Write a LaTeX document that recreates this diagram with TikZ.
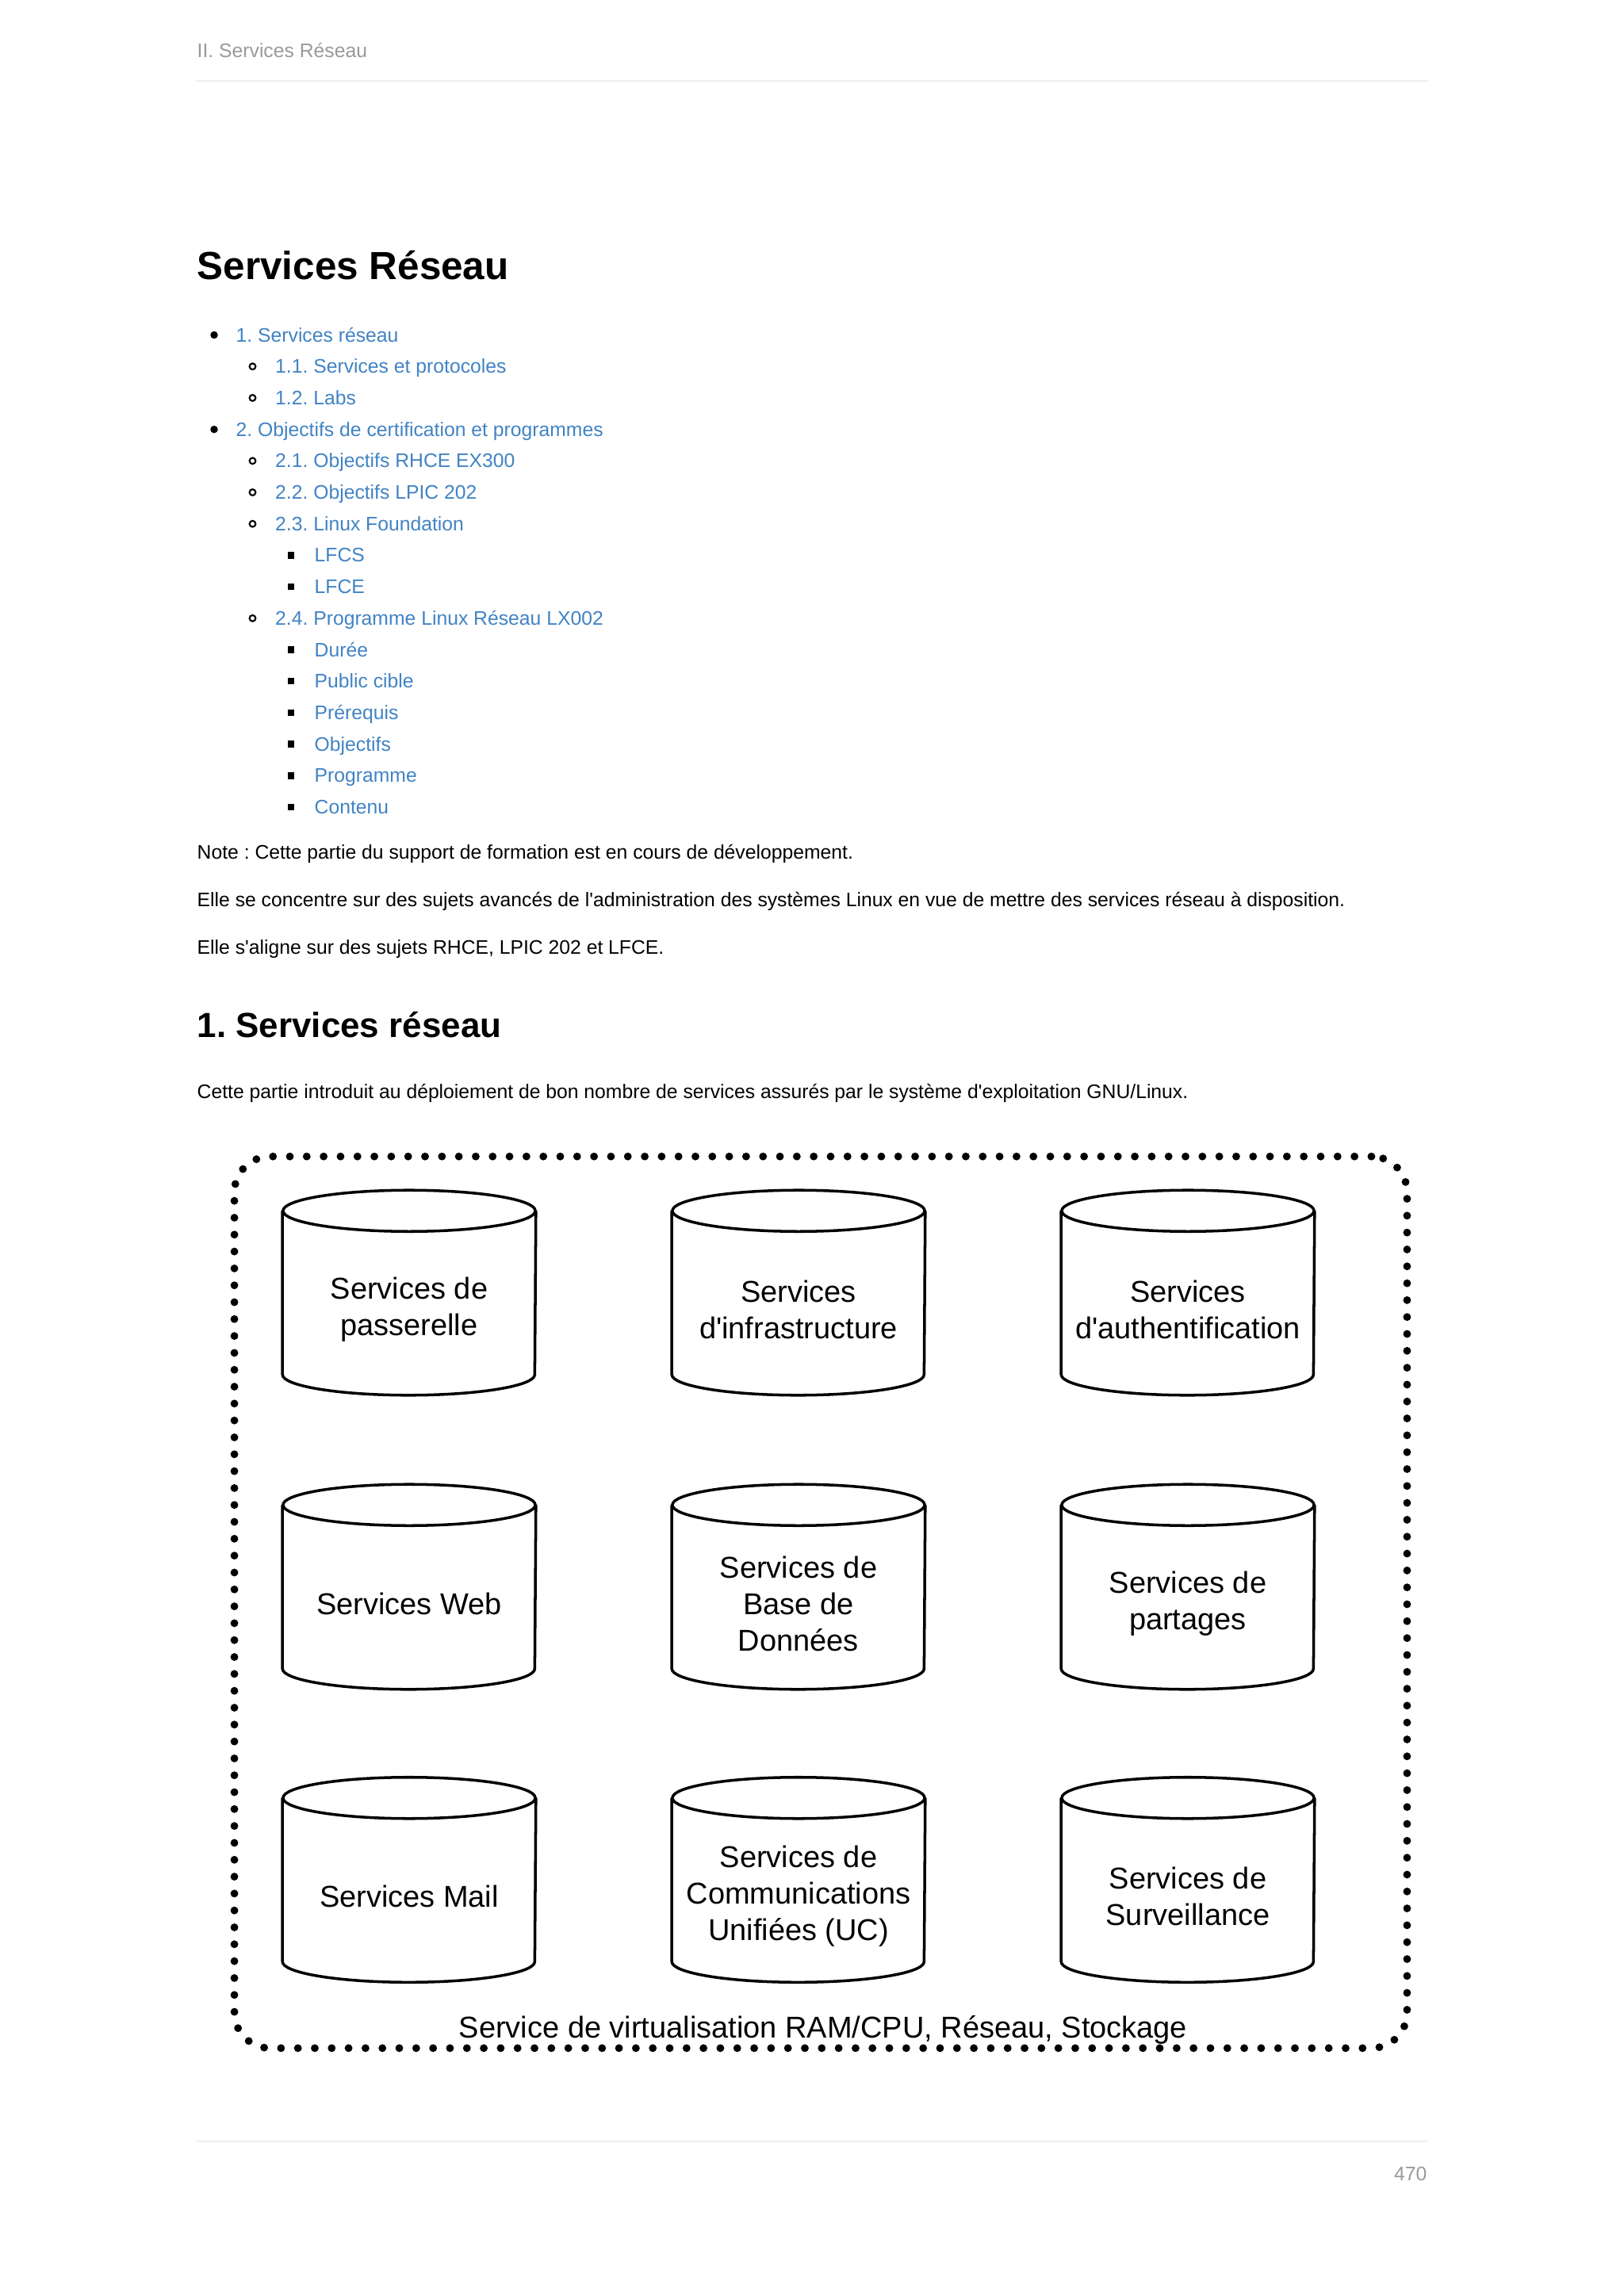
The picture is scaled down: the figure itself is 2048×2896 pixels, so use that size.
\documentclass[tikz,border=0pt]{standalone}
\usepackage{fontspec}
\setmainfont{Liberation Sans}[Ligatures=TeXOff]
\usepackage{xcolor}
\definecolor{lienbleu}{HTML}{4183C4}
\definecolor{grisclair}{HTML}{9A9A9A}
\definecolor{filet}{HTML}{EEEEEE}
\frenchspacing

\begin{document}
\begin{tikzpicture}[x=0.01cm,y=-0.01cm,
	texte/.style={anchor=base west,inner sep=0pt,font=\fontsize{7.03pt}{8.4pt}\selectfont},
	lien/.style={texte,text=lienbleu},
	base/.style={minimum width=3.18cm,minimum height=2.57cm,align=center,inner sep=0pt,
		font=\fontsize{10.8pt}{13.1pt}\selectfont},
	bord/.style={line width=1pt},
	virt/.style={draw,line width=2.8pt,line cap=round,dash pattern=on 0pt off 6.06pt,
		rounded corners=12.8pt,minimum width=14.78cm,minimum height=11.24cm}]
	\useasboundingbox[fill=white] (0,0) rectangle (2048,2896);
	%
	\node[texte,text=grisclair] (entete) at (248,72) {II. Services Réseau};
	\draw[filet,line width=0.6pt] (248,102) -- (1800,102);
	\node[texte,font=\bfseries\fontsize{14.06pt}{17pt}\selectfont] (titre) at (248,352) {Services Réseau};
	%
	\foreach \lvl/\txt [count=\i from 0] in {1/1. Services réseau,2/1.1. Services et protocoles,
		2/1.2. Labs,1/2. Objectifs de certification et programmes,2/2.1. Objectifs RHCE EX300,
		2/2.2. Objectifs LPIC 202,2/2.3. Linux Foundation,3/LFCS,3/LFCE,
		2/2.4. Programme Linux Réseau LX002,3/Durée,3/Public cible,3/Prérequis,
		3/Objectifs,3/Programme,3/Contenu}{
		\pgfmathsetmacro\yb{431+39.7*\i}
		\pgfmathsetmacro\xb{270+48.5*(\lvl-1)}
		\pgfmathsetmacro\xt{297+49.5*(\lvl-1)}
		\ifcase\lvl\or
			\fill (\xb,\yb-8.5) circle[radius=1.35pt];
		\or
			\draw[line width=0.6pt] (\xb,\yb-8.5) circle[radius=1.1pt];
		\or
			\fill (\xb-4.25,\yb-12.75) rectangle (\xb+4.25,\yb-4.25);
		\fi
		\node[lien] (toc\i) at (\xt,\yb) {\txt};
	}
	%
	\node[texte] (note) at (248,1083) {Note : Cette partie du support de formation est en cours de développement.};
	\node[texte] (concentre) at (248,1143) {Elle se concentre sur des sujets avancés de l'administration des systèmes Linux en vue de mettre des services réseau à disposition.};
	\node[texte] (aligne) at (248,1203) {Elle s'aligne sur des sujets RHCE, LPIC 202 et LFCE.};
	\node[texte,font=\bfseries\fontsize{12.5pt}{15pt}\selectfont] (section) at (248,1308) {1. Services réseau};
	\node[texte] (intro) at (248,1385) {Cette partie introduit au déploiement de bon nombre de services assurés par le système d'exploitation GNU/Linux.};
	%
	\node[virt] (virtu) at (1035,2021) {};
	\node[anchor=base,inner sep=0pt,font=\fontsize{10.8pt}{13.1pt}\selectfont] (virtlabel) at (1038,2570)
		{Service de virtualisation RAM/CPU, Réseau, Stockage};
	%
	\node[base] (passerelle) at (516,1651.5) {Services de\\passerelle};
	\node[base] (infra) at (1007,1651.5) {Services\\d'infrastructure};
	\node[base] (authent) at (1498,1651.5) {Services\\d'authentification};
	\node[base] (web) at (516,2022.5) {Services Web};
	\node[base] (bdd) at (1007,2022.5) {Services de\\Base de\\Données};
	\node[base] (partages) at (1498,2022.5) {Services de\\partages};
	\node[base] (mail) at (516,2392) {Services Mail};
	\node[base] (uc) at (1007,2392) {Services de\\Communications\\Unifiées (UC)};
	\node[base] (surv) at (1498,2392) {Services de\\Surveillance};
	%
	\foreach \n in {passerelle,infra,authent,web,bdd,partages,mail,uc,surv}{
		\draw[bord] ([yshift=-0.05cm]\n.north) ellipse[x radius=1.59cm,y radius=0.26cm];
		\draw[bord] ([yshift=-0.05cm]\n.north west) -- ([yshift=0.47cm]\n.south west)
			arc[start angle=180,end angle=360,x radius=1.59cm,y radius=0.26cm]
			-- ([yshift=-0.05cm]\n.north east);
	}
	%
	\draw[filet,line width=0.6pt] (248,2701) -- (1800,2701);
	\node[anchor=base east,inner sep=0pt,font=\fontsize{7.03pt}{8.4pt}\selectfont,text=grisclair] (page) at (1800,2750) {470};
\end{tikzpicture}
\end{document}
